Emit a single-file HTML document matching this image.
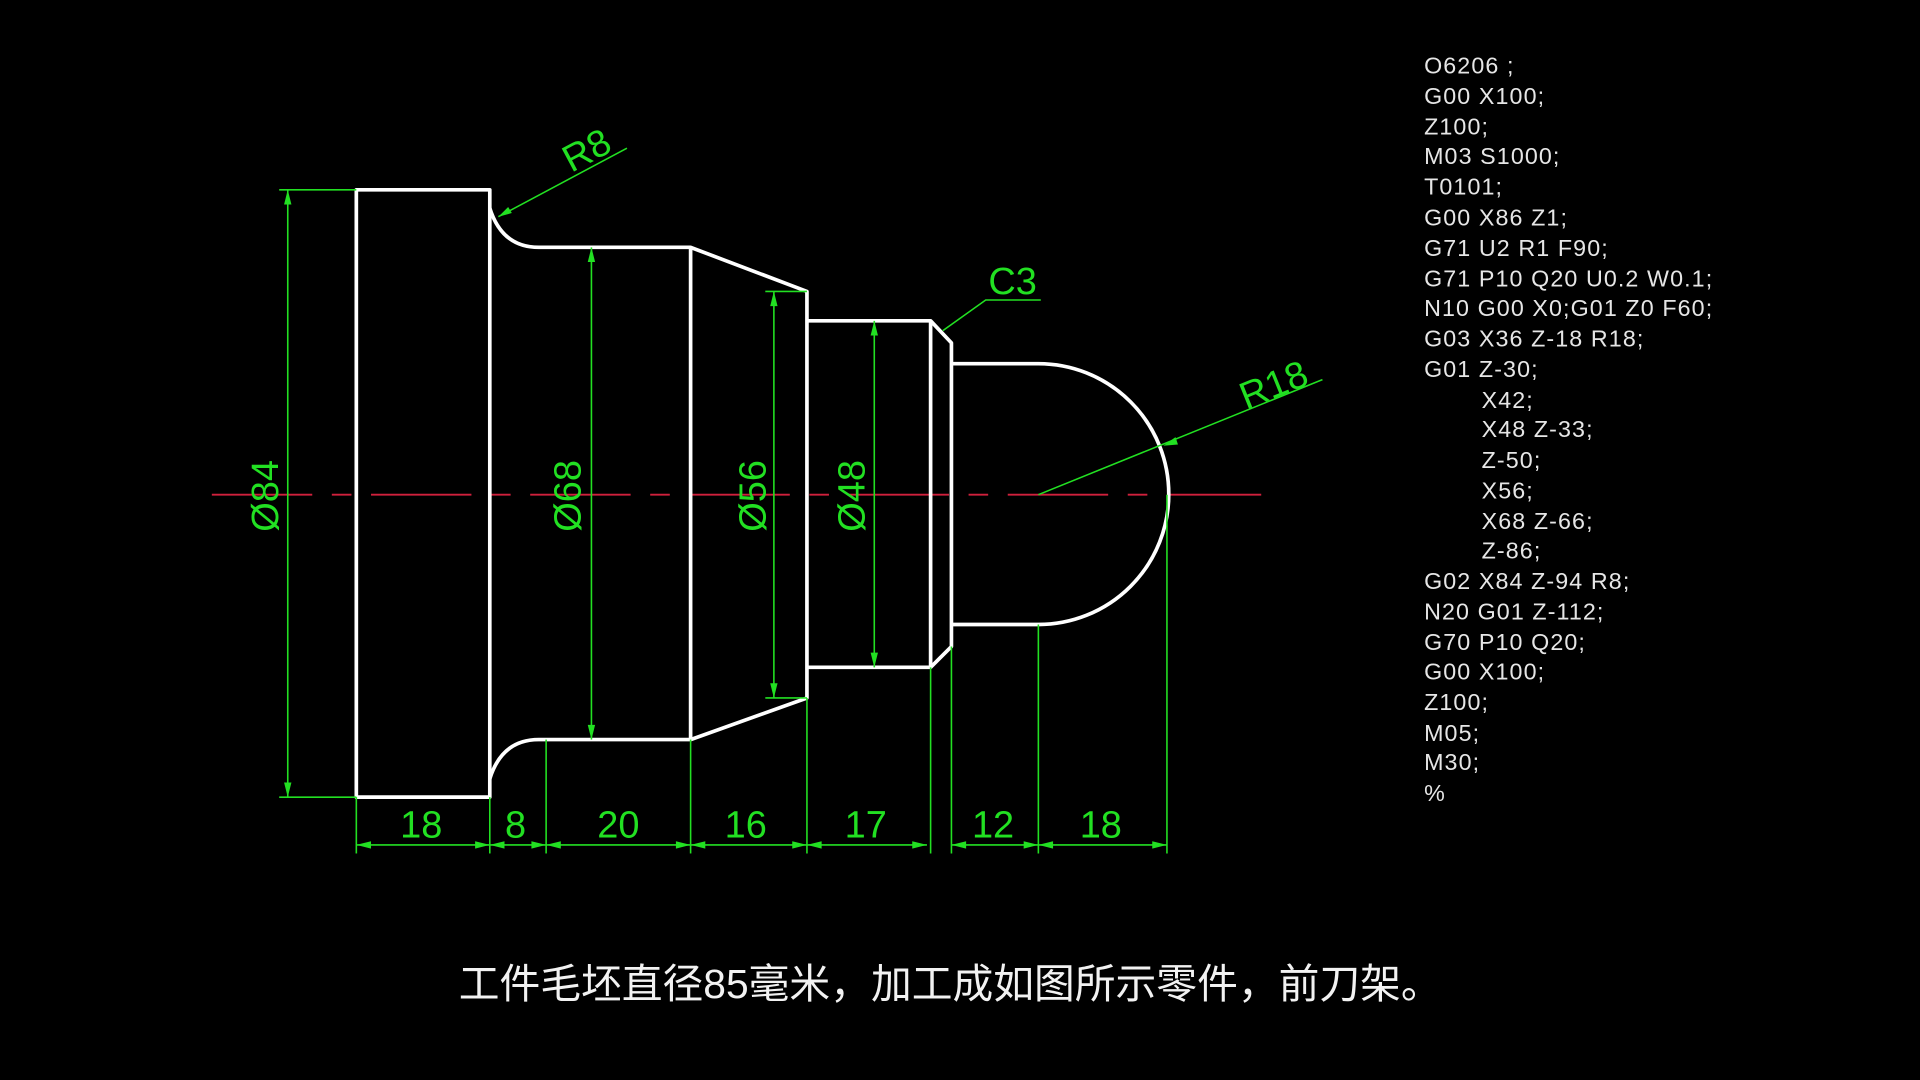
<!DOCTYPE html>
<html><head><meta charset="utf-8"><style>
html,body{margin:0;padding:0;background:#000;width:1920px;height:1080px;overflow:hidden}
svg{display:block}
.g{fill:#22e022;font-family:"Liberation Sans",sans-serif}
.c{fill:#e6e6e6;font-family:"Liberation Sans",sans-serif;font-size:19px;letter-spacing:0.9px}
</style></head><body>
<svg width="1920" height="1080" viewBox="0 0 1568 882" xmlns="http://www.w3.org/2000/svg">
<rect width="1568" height="882" fill="#000"/>
<line x1="173" y1="404" x2="1030" y2="404" stroke="#d0203c" stroke-width="1.6" stroke-dasharray="82 16 16 16"/>
<g fill="none" stroke="#fff" stroke-width="3" stroke-linejoin="round">
<path d="M291 155 H400 V651 H291 Z"/>
<path d="M400 170 Q410 202 440 202 H564 L659 238 V570 L564 604 H440 Q410 604 400 636"/>
<path d="M564 202 V604"/>
<path d="M659 262 H760 L777 280 V528 L760 545 H659"/>
<path d="M760 262 V545"/>
<path d="M777 297 H848 A106 106 0 0 1 848 510 H777"/>
</g>
<g stroke="#22e022" stroke-width="1.3" fill="none">
<line x1="228" y1="155" x2="291" y2="155"/><line x1="228" y1="651" x2="291" y2="651"/>
<line x1="235" y1="155" x2="235" y2="651"/>
<line x1="483" y1="202" x2="483" y2="604"/>
<line x1="625" y1="238" x2="659" y2="238"/><line x1="625" y1="570" x2="659" y2="570"/>
<line x1="632" y1="238" x2="632" y2="570"/>
<line x1="714" y1="262" x2="714" y2="545"/>
<line x1="291" y1="651" x2="291" y2="697"/>
<line x1="400" y1="651" x2="400" y2="697"/>
<line x1="446" y1="604" x2="446" y2="697"/>
<line x1="564" y1="604" x2="564" y2="697"/>
<line x1="659" y1="570" x2="659" y2="697"/>
<line x1="760" y1="545" x2="760" y2="697"/>
<line x1="777" y1="528" x2="777" y2="697"/>
<line x1="848" y1="510" x2="848" y2="697"/>
<line x1="953" y1="404" x2="953" y2="697"/>
<line x1="291" y1="690" x2="757" y2="690"/>
<line x1="777" y1="690" x2="953" y2="690"/>
<line x1="407" y1="177" x2="512" y2="121"/>
<polyline points="770,270 805,245 850,245"/>
<line x1="848" y1="404" x2="1080" y2="310"/>
</g>
<g fill="#22e022">
<path d="M235 155 l-3 12 h6z M235 651 l-3 -12 h6z M483 202 l-3 12 h6z M483 604 l-3 -12 h6z M632 238 l-3 12 h6z M632 570 l-3 -12 h6z M714 262 l-3 12 h6z M714 545 l-3 -12 h6z"/>
<path d="M291 690 l12 -3 v6z M400 690 l-12 -3 v6z M400 690 l12 -3 v6z M446 690 l-12 -3 v6z M446 690 l12 -3 v6z M564 690 l-12 -3 v6z M564 690 l12 -3 v6z M659 690 l-12 -3 v6z M659 690 l12 -3 v6z M757 690 l-12 -3 v6z M777 690 l12 -3 v6z M848 690 l-12 -3 v6z M848 690 l12 -3 v6z M953 690 l-12 -3 v6z"/>
<path d="M407 177 l8 -8 l3 5z M950 364 l10 -7 l2 6z"/>
</g>
<g class="g" font-size="31" text-anchor="middle">
<text transform="translate(227,405) rotate(-90)">Ø84</text>
<text transform="translate(474,405) rotate(-90)">Ø68</text>
<text transform="translate(625,405) rotate(-90)">Ø56</text>
<text transform="translate(706,405) rotate(-90)">Ø48</text>
<text x="344" y="684">18</text>
<text x="421" y="684">8</text>
<text x="505" y="684">20</text>
<text x="609" y="684">16</text>
<text x="707" y="684">17</text>
<text x="811" y="684">12</text>
<text x="899" y="684">18</text>
<text transform="translate(484,132) rotate(-28)">R8</text>
<text x="827" y="240">C3</text>
<text transform="translate(1044,324) rotate(-22)">R18</text>
</g>
<g class="c">
<text x="1163" y="60">O6206 ;</text>
<text x="1163" y="85">G00 X100;</text>
<text x="1163" y="110">Z100;</text>
<text x="1163" y="134">M03 S1000;</text>
<text x="1163" y="159">T0101;</text>
<text x="1163" y="184">G00 X86 Z1;</text>
<text x="1163" y="209">G71 U2 R1 F90;</text>
<text x="1163" y="234">G71 P10 Q20 U0.2 W0.1;</text>
<text x="1163" y="258">N10 G00 X0;G01 Z0 F60;</text>
<text x="1163" y="283">G03 X36 Z-18 R18;</text>
<text x="1163" y="308">G01 Z-30;</text>
<text x="1210" y="333">X42;</text>
<text x="1210" y="357">X48 Z-33;</text>
<text x="1210" y="382">Z-50;</text>
<text x="1210" y="407">X56;</text>
<text x="1210" y="432">X68 Z-66;</text>
<text x="1210" y="456">Z-86;</text>
<text x="1163" y="481">G02 X84 Z-94 R8;</text>
<text x="1163" y="506">N20 G01 Z-112;</text>
<text x="1163" y="531">G70 P10 Q20;</text>
<text x="1163" y="555">G00 X100;</text>
<text x="1163" y="580">Z100;</text>
<text x="1163" y="605">M05;</text>
<text x="1163" y="629">M30;</text>
<text x="1163" y="654">%</text>
</g>
<text x="776" y="815" text-anchor="middle" fill="#f2f2f2" font-size="33.3" font-family="'Liberation Sans','Noto Sans CJK SC',sans-serif">工件毛坯直径85毫米，加工成如图所示零件，前刀架。</text>
</svg>
</body></html>
